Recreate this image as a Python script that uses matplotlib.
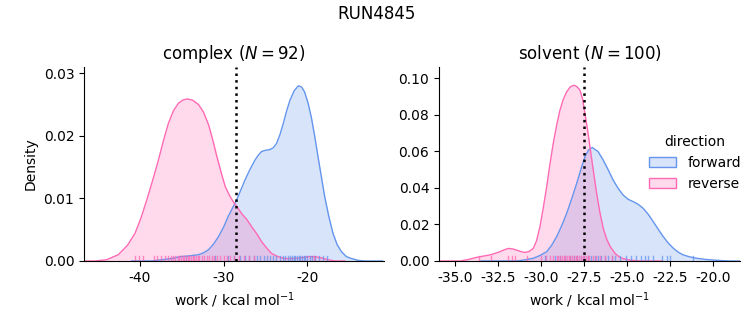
import matplotlib
matplotlib.use("Agg")
import matplotlib.pyplot as plt
from matplotlib.patches import Patch
from matplotlib.ticker import FormatStrFormatter

# ---------------- data ----------------
title = "RUN4845"
phases = ["complex", "solvent"]
n_works = [92, 100]
dg_line = [-28.52, -27.5]

# KDE curves: complex
cx_rev_x = [-46.6, -45.4, -44.0, -42.6, -41.5, -40.6, -39.9, -39.2, -38.5, -37.8, -37.2, -36.6,
            -36.0, -35.4, -34.9, -34.35, -33.7, -33.0, -32.4, -31.8, -31.3, -30.8, -30.3, -29.8,
            -29.3, -28.85, -28.3, -27.85, -27.2, -26.65, -26.0, -25.45, -24.85, -24.25, -23.5,
            -22.7, -21.8, -20.8, -19.9, -19.1, -18.3, -17.5, -16.7, -15.5]
cx_rev_y = [0.0, 0.0, 0.0002, 0.0010, 0.0025, 0.0044, 0.0068, 0.0097, 0.0128, 0.0161, 0.0192, 0.0220,
            0.0240, 0.0252, 0.0257, 0.0259, 0.0257, 0.0250, 0.0238, 0.0218, 0.0194, 0.0167, 0.0142, 0.0119,
            0.0105, 0.0095, 0.0085, 0.0076, 0.0066, 0.0055, 0.0043, 0.0031, 0.0021, 0.0012, 0.0007,
            0.0004, 0.0004, 0.0005, 0.0007, 0.0007, 0.0005, 0.0002, 0.0, 0.0]
cx_fwd_x = [-41.0, -38.6, -37.4, -36.2, -35.2, -34.2, -33.0, -32.4, -31.8, -31.2, -30.6, -30.0,
            -29.45, -28.95, -28.45, -27.95, -27.45, -26.85, -26.25, -25.85, -25.45, -24.95, -24.45,
            -24.05, -23.65, -23.25, -22.85, -22.45, -22.05, -21.55, -21.05, -20.65, -20.3, -19.9,
            -19.5, -19.1, -18.7, -18.3, -17.9, -17.4, -16.9, -16.4, -15.9, -15.3, -14.7, -13.9, -13.1, -11.0]
cx_fwd_y = [0.0, 0.0, 0.0002, 0.0004, 0.0007, 0.0008, 0.0010, 0.0013, 0.0018, 0.0027, 0.0039, 0.0054,
            0.0071, 0.0084, 0.0097, 0.0113, 0.0129, 0.0146, 0.0161, 0.0169, 0.0175, 0.0177, 0.0178,
            0.0181, 0.0188, 0.0202, 0.0220, 0.0240, 0.0257, 0.0272, 0.0280, 0.0278, 0.0270, 0.0253,
            0.0230, 0.0200, 0.0167, 0.0135, 0.0103, 0.0071, 0.0044, 0.0026, 0.0015, 0.0007, 0.0004, 0.0001, 0.0, 0.0]

# KDE curves: solvent
sv_rev_x = [-35.9, -34.7, -34.2, -33.75, -33.35, -32.98, -32.7, -32.4, -32.15, -31.9, -31.65, -31.43,
            -31.2, -30.94, -30.7, -30.46, -30.27, -30.07, -29.88, -29.68, -29.5, -29.3, -29.1, -28.91,
            -28.72, -28.52, -28.3, -28.08, -27.92, -27.75, -27.6, -27.46, -27.3, -27.17, -26.98, -26.78,
            -26.59, -26.4, -26.2, -26.0, -25.7, -25.43, -25.24, -24.85, -24.27, -23.0]
sv_rev_y = [0.0, 0.0, 0.0009, 0.0020, 0.0027, 0.0033, 0.0041, 0.0051, 0.0061, 0.0069, 0.0066, 0.0060,
            0.0052, 0.0047, 0.0052, 0.0069, 0.0110, 0.0188, 0.0290, 0.0407, 0.0525, 0.0644, 0.0745, 0.0826,
            0.0885, 0.0927, 0.0955, 0.0963, 0.0955, 0.0936, 0.0890, 0.0808, 0.0715, 0.0626, 0.0500, 0.0370,
            0.0265, 0.0180, 0.0120, 0.0080, 0.0040, 0.0020, 0.0013, 0.0005, 0.0, 0.0]
sv_fwd_x = [-33.5, -31.4, -30.9, -30.46, -30.07, -29.68, -29.4, -29.1, -28.8, -28.52, -28.23, -27.94,
            -27.7, -27.46, -27.25, -27.04, -26.7, -26.4, -26.1, -25.82, -25.53, -25.24, -24.95, -24.65,
            -24.36, -24.07, -23.78, -23.49, -23.2, -22.91, -22.62, -22.33, -22.04, -21.75, -21.35,
            -20.97, -20.5, -20.0, -19.5, -19.04, -18.4]
sv_fwd_y = [0.0, 0.0, 0.0007, 0.0015, 0.0030, 0.0051, 0.0085, 0.0133, 0.0195, 0.0261, 0.0340, 0.0425,
            0.0500, 0.0571, 0.0608, 0.0622, 0.0600, 0.0553, 0.0498, 0.0443, 0.0398, 0.0361, 0.0338, 0.0325,
            0.0310, 0.0288, 0.0255, 0.0215, 0.0173, 0.0133, 0.0098, 0.0070, 0.0048, 0.0033, 0.0022,
            0.0015, 0.0009, 0.0005, 0.0002, 0.0, 0.0]

# individual works (rug)
cx_rev_works = [-40.6, -40.1, -39.6, -38.3, -38.0, -37.5, -37.0, -36.6, -36.3, -36.0, -35.8, -35.5,
                -35.3, -35.1, -34.9, -34.7, -34.5, -34.3, -34.1, -33.9, -33.7, -33.5, -33.3, -33.1,
                -32.9, -32.6, -32.3, -32.0, -31.7, -31.4, -31.1, -30.8, -30.4, -30.0, -29.6, -29.2,
                -28.7, -28.2, -27.6, -27.0, -26.3, -19.2]
cx_fwd_works = [-34.5, -31.0, -29.5, -28.8, -28.0, -27.4, -26.9, -26.4, -26.0, -25.6, -25.2, -24.8,
                -24.5, -24.1, -23.7, -23.3, -22.9, -22.6, -22.3, -22.0, -21.8, -21.6, -21.4, -21.2,
                -21.0, -20.8, -20.6, -20.4, -20.2, -20.0, -19.7, -19.4, -19.0, -18.6, -18.1, -17.6]
sv_rev_works = [-33.6, -32.9, -31.9, -31.7, -31.5, -30.8, -30.0, -29.7, -29.5, -29.3, -29.1, -29.0,
                -28.9, -28.8, -28.7, -28.6, -28.5, -28.4, -28.3, -28.2, -28.1, -28.0, -27.9, -27.8,
                -27.7, -27.6, -27.5, -27.4, -27.3, -27.2, -27.0, -26.8, -26.6, -26.3, -25.9]
sv_fwd_works = [-29.8, -29.2, -28.9, -28.6, -28.3, -28.1, -27.9, -27.7, -27.5, -27.3, -27.1, -26.9,
                -26.7, -26.5, -26.3, -26.1, -25.9, -25.7, -25.4, -25.1, -24.8, -24.5, -24.2, -24.0,
                -23.8, -23.5, -23.0, -22.7, -22.5, -21.2]

xlims = [(-46.7, -10.8), (-35.93, -18.46)]
ylims = [(0, 0.0310), (0, 0.1063)]
yticks = [[0.0, 0.01, 0.02, 0.03], [0.0, 0.02, 0.04, 0.06, 0.08, 0.10]]
xticks = [[-40, -30, -20], [-35.0, -32.5, -30.0, -27.5, -25.0, -22.5, -20.0]]
xfmt = ["%d", "%.1f"]

directions = ["forward", "reverse"]
colors = {"forward": "#6495ED", "reverse": "#FF69B4"}

curves = [
    {"forward": (cx_fwd_x, cx_fwd_y), "reverse": (cx_rev_x, cx_rev_y)},
    {"forward": (sv_fwd_x, sv_fwd_y), "reverse": (sv_rev_x, sv_rev_y)},
]
works = [
    {"forward": cx_fwd_works, "reverse": cx_rev_works},
    {"forward": sv_fwd_works, "reverse": sv_rev_works},
]

# ---------------- figure ----------------
fig = plt.figure(figsize=(7.53, 3.25), dpi=100)
W, H = 753, 325
boxes = [(84, 67, 384, 261), (439, 67, 740, 261)]
axes = []
for (x0, y0, x1, y1) in boxes:
    axes.append(fig.add_axes([x0 / W, (H - y1) / H, (x1 - x0) / W, (y1 - y0) / H]))

for i, ax in enumerate(axes):
    for d in directions:
        xs, ys = curves[i][d]
        ax.fill_between(xs, ys, 0, color=colors[d], alpha=0.25, linewidth=0)
        ax.plot(xs, ys, color=colors[d], lw=1.0)
    for d in directions:
        for w in works[i][d]:
            ax.axvline(w, ymin=0, ymax=0.025, color=colors[d], lw=1.0, alpha=0.75)
    ax.axvline(dg_line[i], color="black", ls=":", lw=1.8)
    ax.set_xlim(*xlims[i])
    ax.set_ylim(*ylims[i])
    ax.set_xticks(xticks[i])
    ax.xaxis.set_major_formatter(FormatStrFormatter(xfmt[i]))
    ax.set_yticks(yticks[i])
    ax.yaxis.set_major_formatter(FormatStrFormatter("%.2f"))
    ax.spines["top"].set_visible(False)
    ax.spines["right"].set_visible(False)
    ax.set_xlabel(r"work / kcal mol$^{-1}$")
    ax.set_title(f"{phases[i]} ($N = {n_works[i]}$)", fontsize=12)
    ax.tick_params(labelsize=10)

axes[0].set_ylabel("Density")
fig.suptitle(title, fontsize=12, y=0.985)

handles = []
for d in directions:
    handles.append(Patch(facecolor=matplotlib.colors.to_rgba(colors[d], 0.25), edgecolor=colors[d]))
fig.legend(handles, directions, title="direction", loc="center left",
           bbox_to_anchor=(636 / W, 1 - 163 / H), frameon=False, fontsize=10, title_fontsize=10)

fig.savefig("out.png", dpi=100)
